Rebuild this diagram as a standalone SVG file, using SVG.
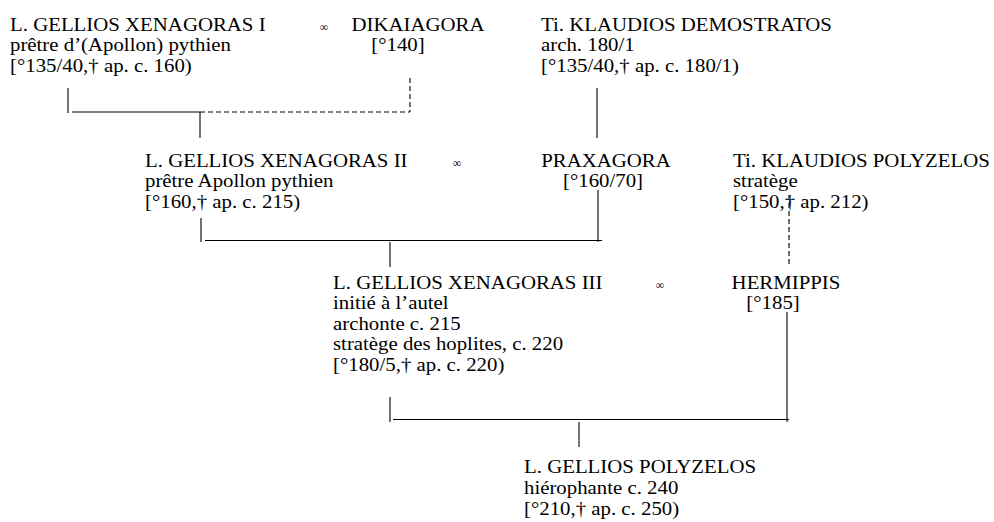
<svg xmlns="http://www.w3.org/2000/svg" width="994" height="522" viewBox="0 0 994 522">
<style>
text{font-family:"Liberation Serif","Times New Roman",serif;font-size:18.6px;fill:#000}
.m{font-size:12px}
.c{text-anchor:middle}
line{stroke:#000;stroke-width:1.1}
.d{stroke-dasharray:5 3}
</style>
<rect width="994" height="522" fill="#fff"/>
<g id="xenagoras1" transform="translate(10,0) scale(1.12,1)">
<text x="0" y="31">L. GELLIOS XENAGORAS I</text>
<text x="0" y="51.5">prêtre d’(Apollon) pythien</text>
<text x="0" y="72">[°135/40,† ap. c. 160)</text>
</g>
<g id="m1"><text class="m c" x="324" y="31">∞</text></g>
<g id="dikaiagora" transform="translate(418,0) scale(1.12,1)">
<text class="c" x="0" y="31">DIKAIAGORA</text>
<text class="c" x="-17.9" y="51.5">[°140]</text>
</g>
<g id="demostratos" transform="translate(541,0) scale(1.12,1)">
<text x="0" y="31">Ti. KLAUDIOS DEMOSTRATOS</text>
<text x="0" y="51.5">arch. 180/1</text>
<text x="0" y="72">[°135/40,† ap. c. 180/1)</text>
</g>
<g id="xenagoras2" transform="translate(145,0) scale(1.12,1)">
<text x="0" y="167">L. GELLIOS XENAGORAS II</text>
<text x="0" y="187.5">prêtre Apollon pythien</text>
<text x="0" y="208">[°160,† ap. c. 215)</text>
</g>
<g id="m2"><text class="m c" x="457" y="167">∞</text></g>
<g id="praxagora" transform="translate(606,0) scale(1.12,1)">
<text class="c" x="0" y="167">PRAXAGORA</text>
<text class="c" x="-2.7" y="187.5">[°160/70]</text>
</g>
<g id="polyzelos1" transform="translate(733,0) scale(1.12,1)">
<text x="0" y="167">Ti. KLAUDIOS POLYZELOS</text>
<text x="0" y="187.5">stratège</text>
<text x="0" y="208">[°150,† ap. 212)</text>
</g>
<g id="xenagoras3" transform="translate(333,0) scale(1.12,1)">
<text x="0" y="289">L. GELLIOS XENAGORAS III</text>
<text x="0" y="309.5">initié à l’autel</text>
<text x="0" y="330">archonte c. 215</text>
<text x="0" y="350.5">stratège des hoplites, c. 220</text>
<text x="0" y="371">[°180/5,† ap. c. 220)</text>
</g>
<g id="m3"><text class="m c" x="660" y="289">∞</text></g>
<g id="hermippis" transform="translate(786,0) scale(1.12,1)">
<text class="c" x="0" y="289">HERMIPPIS</text>
<text class="c" x="-11.6" y="309.5">[°185]</text>
</g>
<g id="polyzelos2" transform="translate(524,0) scale(1.12,1)">
<text x="0" y="473">L. GELLIOS POLYZELOS</text>
<text x="0" y="494">hiérophante c. 240</text>
<text x="0" y="515">[°210,† ap. c. 250)</text>
</g>
<g id="connectors">
<line x1="68" y1="88" x2="68" y2="113"/>
<line x1="72" y1="112" x2="200" y2="112"/>
<line class="d" x1="200" y1="112" x2="410" y2="112"/>
<line class="d" x1="410" y1="78" x2="410" y2="112"/>
<line x1="200" y1="112" x2="200" y2="138"/>
<line x1="597" y1="88" x2="597" y2="138"/>
<line x1="201" y1="218" x2="201" y2="242"/>
<line x1="205" y1="240.5" x2="602" y2="240.5"/>
<line x1="598" y1="190" x2="598" y2="242"/>
<line x1="390" y1="242" x2="390" y2="267"/>
<line class="d" x1="789" y1="195" x2="789" y2="265"/>
<line x1="390" y1="397" x2="390" y2="422"/>
<line x1="393" y1="419.5" x2="789" y2="419.5"/>
<line x1="787" y1="312" x2="787" y2="422"/>
<line x1="579" y1="422" x2="579" y2="447"/>
</g>
</svg>
